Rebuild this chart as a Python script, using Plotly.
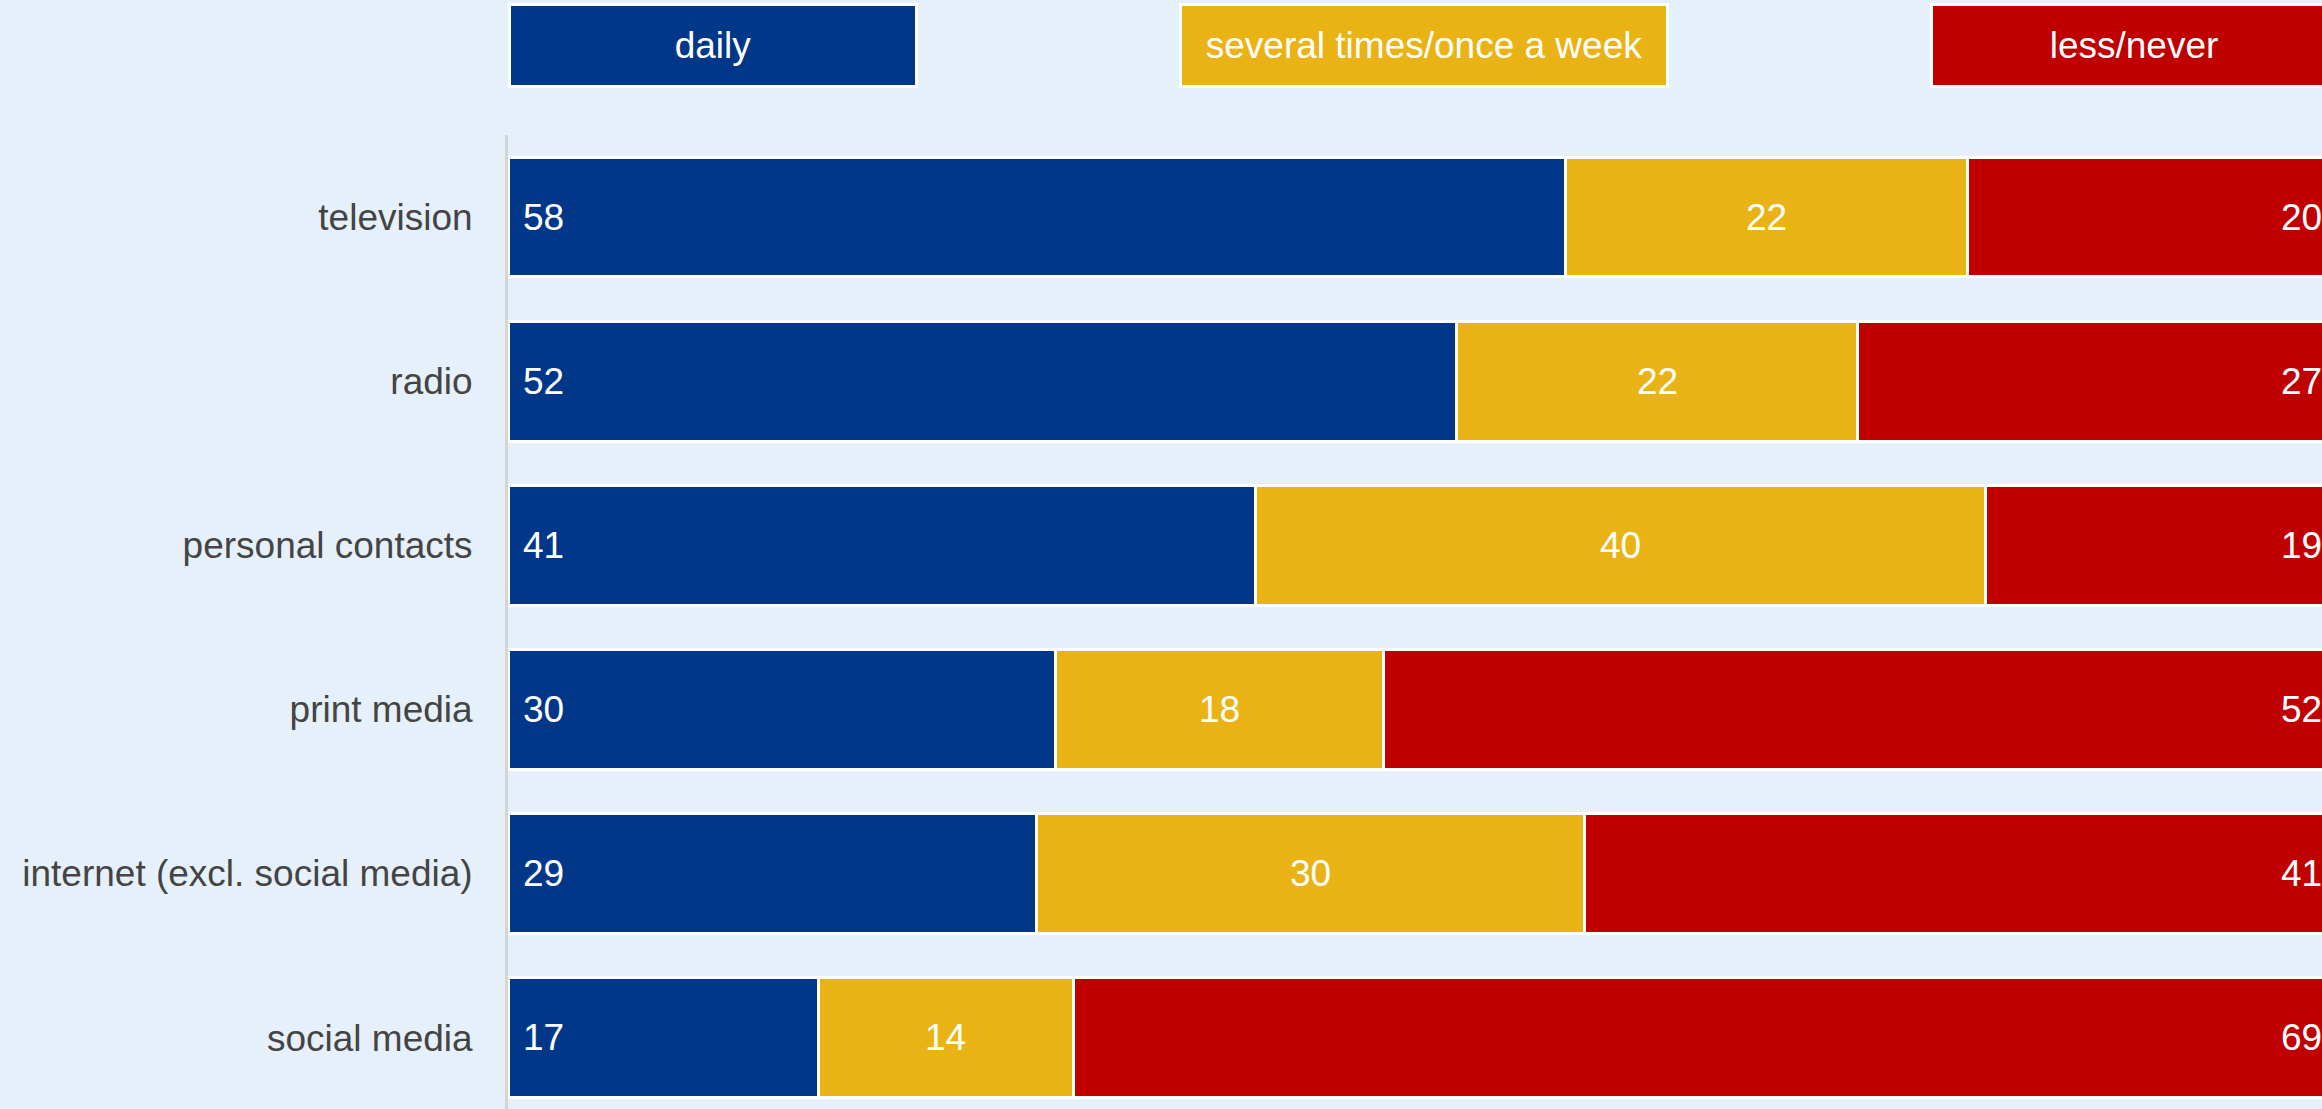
import plotly.graph_objects as go

# data (percent)
media = ["television", "radio", "personal contacts", "print media",
         "internet (excl. social media)", "social media"]
daily = [58, 52, 41, 30, 29, 17]
weekly = [22, 22, 40, 18, 30, 14]
rarely = [20, 27, 19, 52, 41, 69]

series_names = ["daily", "several times/once a week", "less/never"]
colors = ["#003789", "#EAB315", "#C00000"]
TOTAL = 100  # right-hand labels sit at the end of the 100 % scale

# the original chart is a bit wider than the window and gets cut at the right
W, H = 2352, 1109
ML, MT = 508, 135
BG = "#E6F0FA"
FONT = "Liberation Sans, Arial, sans-serif"
FS = 37

fig = go.Figure()
for name, vals, col in zip(series_names, [daily, weekly, rarely], colors):
    fig.add_bar(
        y=media, x=vals, orientation="h", name=name,
        marker=dict(color=col, line=dict(color="white", width=3)),
        showlegend=False,
    )

# value labels: left-aligned for daily, centred for weekly, right-aligned for less/never
for m, d, w, r in zip(media, daily, weekly, rarely):
    fig.add_annotation(x=0, y=m, text=str(d), xanchor="left", xshift=13,
                       showarrow=False, font=dict(color="white", size=FS, family=FONT))
    fig.add_annotation(x=d + w / 2, y=m, text=str(w), xanchor="center",
                       showarrow=False, font=dict(color="white", size=FS, family=FONT))
    fig.add_annotation(x=TOTAL, y=m, text=str(r), xanchor="right", xshift=-8,
                       showarrow=False, font=dict(color="white", size=FS, family=FONT))

row_px = 164.1
plot_h = H - MT
fig.update_yaxes(
    categoryorder="array", categoryarray=media,
    range=[-0.5 + plot_h / row_px, -0.5],
    showline=True, linecolor="#D4D4D4", linewidth=3,
    showgrid=False, zeroline=False,
    ticks="outside", ticklen=25, tickcolor="rgba(0,0,0,0)",
    tickfont=dict(size=FS, color="#444444", family=FONT),
)
px_per_unit = 18.24
fig.update_xaxes(range=[0, (W - ML) / px_per_unit], showgrid=False,
                 zeroline=False, showticklabels=False)

# legend boxes drawn as annotations (pixel positions converted to paper coords)
def px_x(p):
    return (p - ML) / (W - ML)

def px_y(p):
    return (H - p) / plot_h

boxes = [(508, 918), (1179, 1669), (1930, 2338)]
for (x0, x1), name, col in zip(boxes, series_names, colors):
    fig.add_annotation(
        x=px_x((x0 + x1) / 2), y=px_y(46), xref="paper", yref="paper",
        xanchor="center", yanchor="middle", showarrow=False,
        text=name, width=x1 - x0 - 6, height=79,
        bgcolor=col, bordercolor="white", borderwidth=3, borderpad=0,
        font=dict(color="white", size=FS, family=FONT),
    )

fig.update_layout(
    barmode="stack", bargap=0.27,
    width=W, height=H,
    margin=dict(l=ML, r=0, t=MT, b=0, pad=0),
    paper_bgcolor=BG, plot_bgcolor=BG,
)

fig.write_html(
    "out.html",
    config={"displayModeBar": False},
    post_script=("document.body.style.margin='0';"
                 "document.body.style.overflow='hidden';"
                 "document.body.style.background='%s';" % BG),
)
